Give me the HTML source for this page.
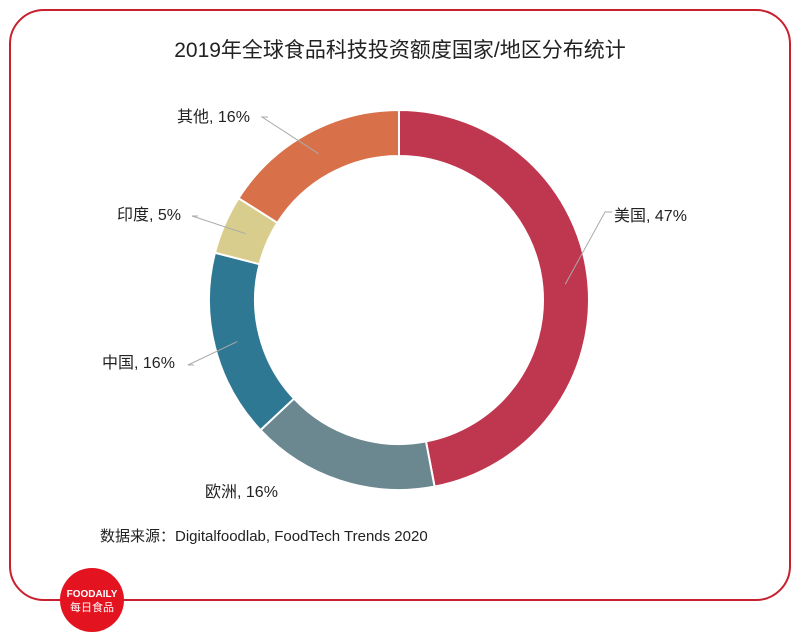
<!DOCTYPE html>
<html><head><meta charset="utf-8"><style>
html,body{margin:0;padding:0;background:#fff;}
body{width:800px;height:637px;overflow:hidden;position:relative;font-family:"Liberation Sans","Noto Sans CJK SC",sans-serif;}
</style></head><body>
<svg id="chart" width="800" height="637" viewBox="0 0 800 637" xmlns="http://www.w3.org/2000/svg">
<rect x="10" y="10" width="780" height="590" rx="34" ry="34" fill="none" stroke="#c8202e" stroke-width="2"/>
<text x="400" y="57" text-anchor="middle" font-size="21" fill="#222" font-family="Liberation Sans, Noto Sans CJK SC, sans-serif">2019年全球食品科技投资额度国家/地区分布统计</text>
<g id="slices"></g>
<g id="labels"></g>
<text x="100" y="541" font-size="15" fill="#222" font-family="Liberation Sans, Noto Sans CJK SC, sans-serif">数据来源：Digitalfoodlab, FoodTech Trends 2020</text>
<g>
<circle cx="92" cy="600" r="32" fill="#e3141f"/>
<text x="92" y="597" text-anchor="middle" font-size="10" font-weight="bold" fill="#fff">FOODAILY</text>
<text x="92" y="611" text-anchor="middle" font-size="11" fill="#fff" font-family="Noto Sans CJK SC, sans-serif">每日食品</text>
</g>
</svg>
<script>
const categories = ["美国","欧洲","中国","印度","其他"];
const values = [47,16,16,5,16];
const colors = ["#bf364f","#6b8790","#2f7893","#d8cd8c","#d8714a"];
const labelPos = [[614,221,"start",605,212],[205,497,"start",0,0],[102,368,"start",188,365],[117,220,"start",192,216],[177,122,"start",262,117]];
const cx=399, cy=300, R=190, r=144;
const ns="http://www.w3.org/2000/svg";
const total = values.reduce((a,b)=>a+b,0);
function pt(a,rad){return [cx+rad*Math.sin(a), cy-rad*Math.cos(a)];}
let start=0;
const gS=document.getElementById('slices'), gL=document.getElementById('labels');
values.forEach((v,i)=>{
  const end=start+v/total*2*Math.PI;
  const large=(end-start)>Math.PI?1:0;
  const [x1,y1]=pt(start,R),[x2,y2]=pt(end,R),[x3,y3]=pt(end,r),[x4,y4]=pt(start,r);
  const p=document.createElementNS(ns,'path');
  p.setAttribute('d',`M${x1},${y1} A${R},${R} 0 ${large} 1 ${x2},${y2} L${x3},${y3} A${r},${r} 0 ${large} 0 ${x4},${y4} Z`);
  p.setAttribute('fill',colors[i]);p.setAttribute('stroke','#fff');p.setAttribute('stroke-width','2');
  
  
  gS.appendChild(p);
  const mid=(start+end)/2;
  const [mx,my]=pt(mid,(R+r)/2);
  const lp=labelPos[i];
  if(lp[3]){
    const l=document.createElementNS(ns,'polyline');
    const ex = lp[3]===605 ? 612 : lp[3]+6;
    l.setAttribute('points',`${mx},${my} ${lp[3]},${lp[4]} ${ex},${lp[4]}`);
    l.setAttribute('fill','none');l.setAttribute('stroke','#aaa');l.setAttribute('stroke-width','1');
    
    
    gL.appendChild(l);
  }
  const t=document.createElementNS(ns,'text');
  t.setAttribute('x',lp[0]);t.setAttribute('y',lp[1]);t.setAttribute('font-size','16');t.setAttribute('fill','#222');
  t.setAttribute('font-family','Liberation Sans, Noto Sans CJK SC, sans-serif');
  t.textContent=categories[i]+', '+v+'%';
  
  
  gL.appendChild(t);
  start=end;
});
</script>
</body></html>
